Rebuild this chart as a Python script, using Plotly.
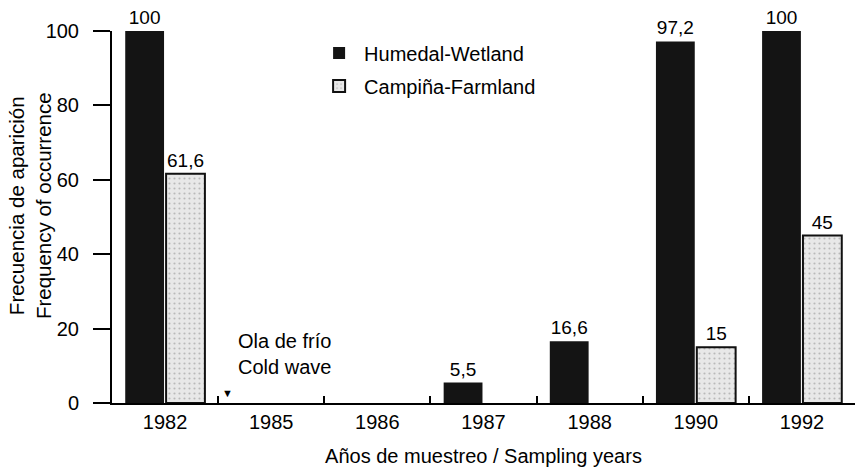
import plotly.graph_objects as go

years = ["1982", "1985", "1986", "1987", "1988", "1990", "1992"]
humedal = [100, 0, 0, 5.5, 16.6, 97.2, 100]
campina = [61.6, 0, 0, 0, 0, 15, 45]
y_ticks = [0, 20, 40, 60, 80, 100]

def labels(vals):
    return [(f"{v:g}".replace(".", ",") if v > 0 else "") for v in vals]

FONT = "Liberation Sans, Arial, Helvetica, sans-serif"
FS = 20
VFS = 19

fig = go.Figure()
fig.add_trace(go.Bar(
    x=years, y=humedal, name="Humedal-Wetland", legendgroup="h",
    marker=dict(color="#141414", line=dict(color="#141414", width=0)),
    text=labels(humedal), textposition="outside", cliponaxis=False,
    constraintext="none", textfont=dict(size=VFS, color="black", family=FONT),
))
fig.add_trace(go.Bar(
    x=years, y=campina, name="Campiña-Farmland", legendgroup="c",
    marker=dict(color="#e2e2e2",
                line=dict(color="#111", width=[2 if v > 0 else 0 for v in campina]),
                pattern=dict(shape=".", fgcolor="#8a8a8a", bgcolor="#e8e8e8",
                             size=5, solidity=0.15)),
    text=labels(campina), textposition="outside", cliponaxis=False,
    constraintext="none", textfont=dict(size=VFS, color="black", family=FONT),
))

fig.add_annotation(x=0.672, y=13.2, xref="x", yref="y", xanchor="left",
                   text="Ola de frío<br>Cold wave", showarrow=False, align="left",
                   font=dict(size=FS, color="black", family=FONT))
fig.add_annotation(x=0.585, y=2.8, xref="x", yref="y",
                   text="▼", showarrow=False,
                   font=dict(size=11, color="black", family=FONT))
# y-axis title (two lines, rotated)
fig.add_annotation(x=-0.110, y=0.53, xref="paper", yref="paper",
                   xanchor="center", yanchor="middle", textangle=-90,
                   text="Frecuencia de aparición<br>Frequency of occurrence",
                   showarrow=False, font=dict(size=20.5, color="black", family=FONT))

fig.update_layout(
    width=856, height=474,
    margin=dict(l=112, r=1, t=31, b=71),
    paper_bgcolor="white", plot_bgcolor="white",
    barmode="group", bargap=0.23, bargroupgap=0.05,
    font=dict(family=FONT, size=FS, color="black"),
    showlegend=True,
    legend=dict(x=0.272, y=0.993, xanchor="left", yanchor="top",
                bgcolor="rgba(0,0,0,0)", font=dict(size=FS), itemwidth=40,
                tracegroupgap=4, traceorder="grouped"),
)
fig.update_xaxes(
    type="category", showline=True, linecolor="black", linewidth=2,
    ticks="inside", tickson="boundaries", ticklen=7, tickwidth=2, tickcolor="black",
    showgrid=False, zeroline=False,
    tickfont=dict(size=FS),
    title=dict(text="Años de muestreo / Sampling years", font=dict(size=FS), standoff=17),
)
fig.update_yaxes(
    range=[0, 100], tickvals=y_ticks, showline=True, linecolor="black", linewidth=2,
    ticks="outside", ticklen=17, tickwidth=2, tickcolor="black",
    showgrid=False, zeroline=False, tickfont=dict(size=FS), ticklabelstandoff=10,
)

fig.write_html("out.html", config={"displayModeBar": False},
               post_script="document.body.style.margin='0';")
